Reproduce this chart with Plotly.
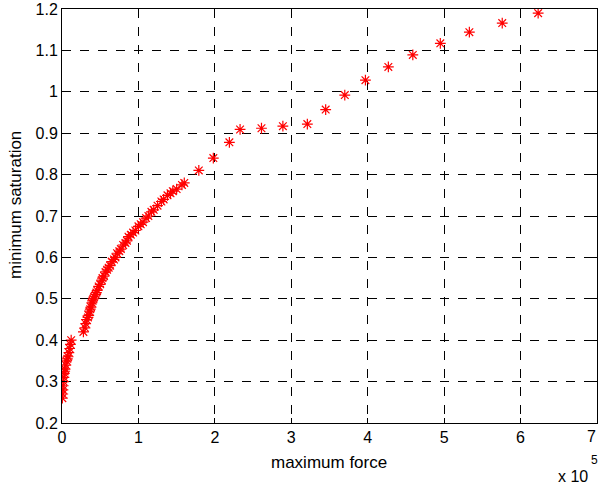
import plotly.graph_objects as go

# maximum force in units of 1e5
force_low = [0.005, 0.01, 0.012, 0.015, 0.02, 0.025, 0.03, 0.035, 0.04, 0.05, 0.06, 0.07, 0.08, 0.09, 0.10, 0.11, 0.12]
sat_low = [0.26, 0.27, 0.28, 0.29, 0.30, 0.31, 0.32, 0.325, 0.33, 0.34, 0.35, 0.355, 0.36, 0.37, 0.38, 0.39, 0.40]

force_mid = [0.28, 0.30, 0.31, 0.32, 0.34, 0.35, 0.36, 0.37, 0.38, 0.39, 0.40, 0.41, 0.42, 0.44, 0.45,
             0.46, 0.48, 0.50, 0.52, 0.53, 0.55, 0.57, 0.59, 0.61, 0.63, 0.65, 0.68, 0.70, 0.72, 0.75,
             0.77, 0.80, 0.83, 0.85, 0.87, 0.90, 0.93, 0.96, 1.00, 1.03, 1.06, 1.10, 1.13, 1.17, 1.20,
             1.25, 1.30, 1.33, 1.38, 1.42, 1.45, 1.50, 1.57, 1.60]
sat_mid = [0.42, 0.43, 0.44, 0.45, 0.455, 0.46, 0.47, 0.475, 0.48, 0.49, 0.495, 0.50, 0.505, 0.51, 0.515,
           0.52, 0.53, 0.535, 0.545, 0.55, 0.555, 0.565, 0.57, 0.575, 0.58, 0.59, 0.595, 0.60, 0.61, 0.615,
           0.62, 0.63, 0.635, 0.64, 0.65, 0.655, 0.66, 0.665, 0.675, 0.68, 0.685, 0.695, 0.70, 0.71, 0.715,
           0.725, 0.735, 0.74, 0.75, 0.755, 0.76, 0.765, 0.775, 0.78]

force_high = [1.79, 1.98, 2.19, 2.33, 2.61, 2.89, 3.21, 3.45, 3.70, 3.97, 4.27, 4.59, 4.95, 5.33, 5.76, 6.23]
sat_high = [0.81, 0.84, 0.878, 0.909, 0.912, 0.917, 0.922, 0.957, 0.992, 1.028, 1.06, 1.089, 1.117, 1.144, 1.166, 1.19]

force = [v * 1e5 for v in force_low + force_mid + force_high]
saturation = sat_low + sat_mid + sat_high

x_tickvals = [0, 1e5, 2e5, 3e5, 4e5, 5e5, 6e5, 7e5]
x_ticktext = ["0", "1", "2", "3", "4", "5", "6", "7"]
y_tickvals = [0.2, 0.3, 0.4, 0.5, 0.6, 0.7, 0.8, 0.9, 1.0, 1.1, 1.2]
y_ticktext = ["0.2", "0.3", "0.4", "0.5", "0.6", "0.7", "0.8", "0.9", "1", "1.1", "1.2"]

FONT = "Liberation Sans, Arial, sans-serif"
W, H = 598, 486
ML, MR, MT, MB = 62, 1, 9, 63
plot_w = W - ML - MR
plot_h = H - MT - MB


def px_x(px):
    return (px - ML) / plot_w


def px_y(py):
    return (H - MB - py) / plot_h


fig = go.Figure()
fig.add_trace(go.Scatter(
    x=force, y=saturation, mode="markers",
    marker=dict(symbol="asterisk-open", size=9, color="red",
                line=dict(color="red", width=1.2)),
    showlegend=False, hoverinfo="skip",
))

axis_common = dict(
    showline=True, linecolor="black", linewidth=1, mirror="allticks",
    ticks="inside", ticklen=5, tickcolor="black",
    showgrid=True, gridcolor="black", gridwidth=1, griddash="dash",
    zeroline=False, automargin=False,
    tickfont=dict(family=FONT, size=16, color="black"),
)

# last x tick label sits at the right page edge; drawn as a right-aligned annotation
fig.update_xaxes(range=[0, 7e5], tickvals=x_tickvals, ticktext=x_ticktext[:-1] + [""], **axis_common)
fig.update_yaxes(range=[0.2, 1.2], tickvals=y_tickvals, ticktext=y_ticktext, **axis_common)

fig.add_annotation(x=x_tickvals[-1], y=px_y(437), xref="x", yref="paper", showarrow=False,
                   text=x_ticktext[-1], xanchor="right", yanchor="middle", xshift=1,
                   font=dict(family=FONT, size=16, color="black"))
fig.add_annotation(x=px_x(329), y=px_y(462), xref="paper", yref="paper", showarrow=False,
                   text="maximum force", xanchor="center", yanchor="middle",
                   font=dict(family=FONT, size=17, color="black"))
fig.add_annotation(x=px_x(15), y=px_y(205), xref="paper", yref="paper", showarrow=False,
                   text="minimum saturation", textangle=-90, xanchor="center", yanchor="middle",
                   font=dict(family=FONT, size=17, color="black"))
fig.add_annotation(x=px_x(590), y=px_y(476), xref="paper", yref="paper",
                   showarrow=False, text="x 10", xanchor="right", yanchor="middle",
                   font=dict(family=FONT, size=16, color="black"))
fig.add_annotation(x=px_x(589), y=px_y(460), xref="paper", yref="paper",
                   showarrow=False, text="5", xanchor="left", yanchor="middle",
                   font=dict(family=FONT, size=12, color="black"))

fig.update_layout(
    width=W, height=H,
    margin=dict(l=ML, r=MR, t=MT, b=MB),
    plot_bgcolor="white", paper_bgcolor="white",
)

fig.write_html("out.html", config={"displayModeBar": False},
               post_script="document.body.style.margin='0';document.body.style.overflow='hidden';")
